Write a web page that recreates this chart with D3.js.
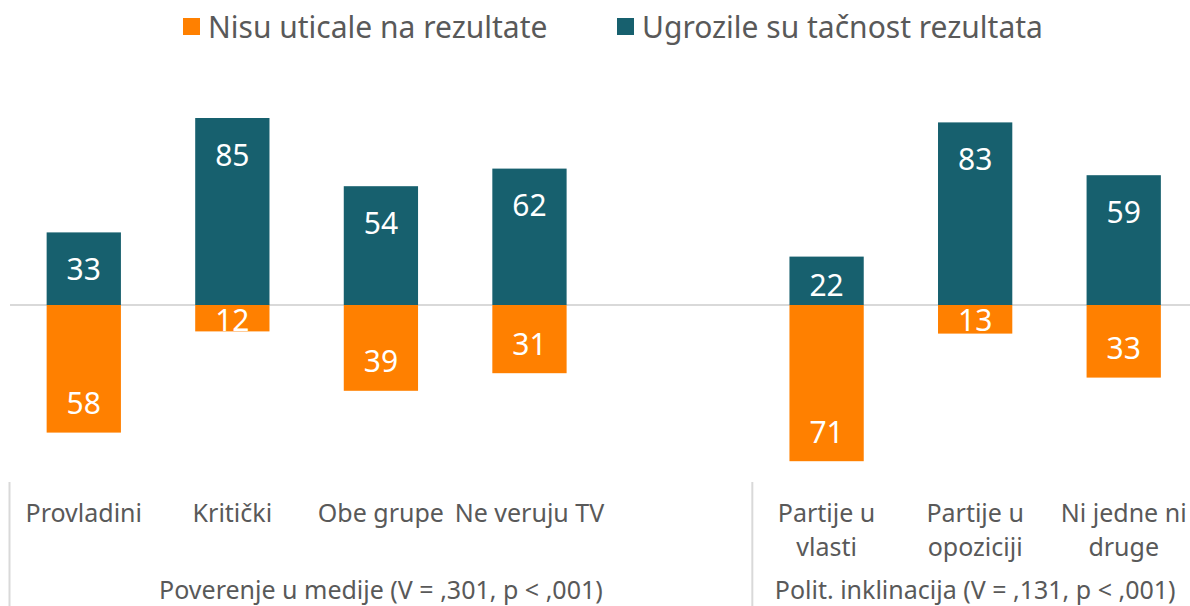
<!DOCTYPE html>
<html>
<head>
<meta charset="utf-8">
<script src="https://cdn.jsdelivr.net/npm/d3@7"></script>
<style>
  body { margin: 0; background: #fff; }
  text { font-family: "Noto Sans", sans-serif; }
</style>
</head>
<body>
<div id="chart"></div>
<script>
// Podaci
const kategorije = ["Provladini", "Kritički", "Obe grupe", "Ne veruju TV", "", "Partije u|vlasti", "Partije u|opoziciji", "Ni jedne ni|druge"];
const nisuUticale = [58, 12, 39, 31, null, 71, 13, 33];
const ugrozile = [33, 85, 54, 62, null, 22, 83, 59];
const grupe = [
    { naziv: "Poverenje u medije (V = ,301, p < ,001)", od: 0, do: 4 },
    { naziv: "Polit. inklinacija (V = ,131, p < ,001)", od: 5, do: 7 },
];
const legenda = ["Nisu uticale na rezultate", "Ugrozile su tačnost rezultata"];
const boje = ["#ff8000", "#17606e"];

const dimenzije = { sirina: 1190, visina: 606, nula: 305 };

const svg = d3.select("#chart")
    .append("svg")
    .attr("width", dimenzije.sirina)
    .attr("height", dimenzije.visina);

// Skale
const xScale = d3.scaleBand()
    .domain(d3.range(kategorije.length))
    .range([9.5, 1198])
    .paddingInner(0.5)
    .paddingOuter(0.25);

const slot = xScale.step();

const yScale = d3.scaleLinear()
    .domain([-100, 100])
    .range([dimenzije.nula + 220, dimenzije.nula - 220]);

// Nulta linija
svg.append("line")
    .attr("x1", 10)
    .attr("x2", dimenzije.sirina)
    .attr("y1", yScale(0))
    .attr("y2", yScale(0))
    .attr("stroke", "#d9d9d9")
    .attr("stroke-width", 2);

// Stubici
kategorije.forEach((k, i) => {
    if (ugrozile[i] == null) return;
    const x = xScale(i);
    const w = xScale.bandwidth();
    const cx = x + w / 2;

    const yTop = yScale(ugrozile[i]);
    svg.append("rect")
        .attr("x", x)
        .attr("y", yTop)
        .attr("width", w)
        .attr("height", yScale(0) - yTop)
        .attr("fill", boje[1]);

    const yBot = yScale(-nisuUticale[i]);
    svg.append("rect")
        .attr("x", x)
        .attr("y", yScale(0))
        .attr("width", w)
        .attr("height", yBot - yScale(0))
        .attr("fill", boje[0]);

    svg.append("text")
        .attr("x", cx)
        .attr("y", Math.min(yTop + 36, yScale(0) - 21))
        .attr("text-anchor", "middle")
        .attr("dominant-baseline", "central")
        .attr("fill", "white")
        .attr("font-size", 30)
        .text(ugrozile[i]);

    svg.append("text")
        .attr("x", cx)
        .attr("y", Math.max(yBot - 30, yScale(0) + 14))
        .attr("text-anchor", "middle")
        .attr("dominant-baseline", "central")
        .attr("fill", "white")
        .attr("font-size", 30)
        .text(nisuUticale[i]);

    // Oznaka kategorije
    const redovi = k.split("|");
    redovi.forEach((r, j) => {
        svg.append("text")
            .attr("x", cx)
            .attr("y", 522 + j * 34)
            .attr("text-anchor", "middle")
            .attr("fill", "#595959")
            .attr("font-size", 25)
            .text(r);
    });
});

// Grupe na x osi
grupe.forEach(g => {
    const x0 = xScale(g.od) - xScale.paddingInner() * slot / 2;
    const x1 = xScale(g.do) + xScale.bandwidth() + xScale.paddingInner() * slot / 2;
    svg.append("line")
        .attr("x1", x0)
        .attr("x2", x0)
        .attr("y1", 482)
        .attr("y2", dimenzije.visina)
        .attr("stroke", "#d9d9d9")
        .attr("stroke-width", 2);
    svg.append("text")
        .attr("x", (x0 + x1) / 2)
        .attr("y", 599)
        .attr("text-anchor", "middle")
        .attr("fill", "#595959")
        .attr("font-size", 25)
        .text(g.naziv);
});

// Legenda
const legX = [183, 617];
legenda.forEach((l, i) => {
    svg.append("rect")
        .attr("x", legX[i])
        .attr("y", 18)
        .attr("width", 17)
        .attr("height", 17)
        .attr("fill", boje[i]);
    svg.append("text")
        .attr("x", legX[i] + 25)
        .attr("y", 38)
        .attr("fill", "#595959")
        .attr("font-size", 30)
        .text(l);
});
</script>
</body>
</html>
